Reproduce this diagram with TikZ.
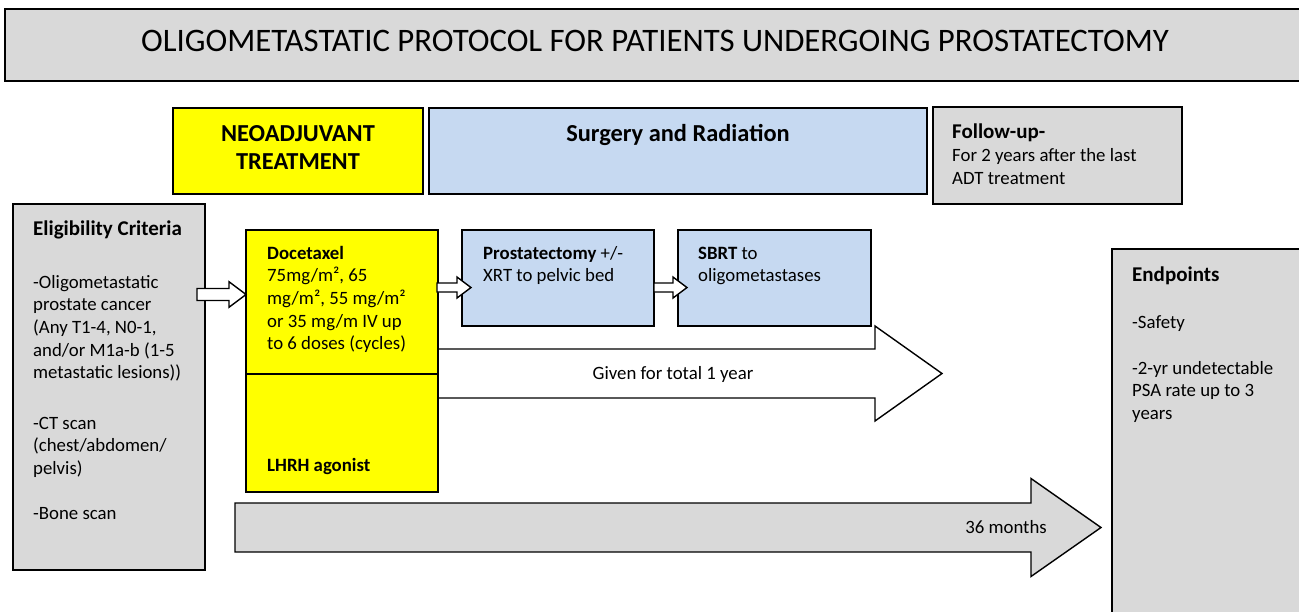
\documentclass[tikz,border=0pt]{standalone}
\usepackage{fontspec}
\setmainfont{Carlito}
\usetikzlibrary{calc}
\definecolor{boxgray}{HTML}{D9D9D9}
\definecolor{boxyellow}{HTML}{FFFF00}
\definecolor{boxblue}{HTML}{C6D9F1}
\newcommand{\bodyfont}{\fontsize{18.8}{22.7}\selectfont}
\newcommand{\subheadfont}{\fontsize{21}{25}\selectfont\bfseries}
\newcommand{\headfont}{\fontsize{24.4}{28}\selectfont\bfseries}
\newcommand{\titlefont}{\fontsize{32.8}{38}\selectfont}
% block arrow: start coord, tip coord, head length, shaft half height, head half height, style
\newcommand{\blockarr}[6]{%
  \draw[#6] let \p1=(#1), \p2=(#2) in
    (\x1,\y1-#4) -- (\x2-#3,\y1-#4) -- (\x2-#3,\y1-#5) -- (\x2,\y1)
    -- (\x2-#3,\y1+#5) -- (\x2-#3,\y1+#4) -- (\x1,\y1+#4) -- cycle;}
\begin{document}
\begin{tikzpicture}[x=1pt,y=-1pt,
  boxbase/.style={draw=black, line width=1.8pt, inner sep=0pt, outer sep=0pt, anchor=north west},
  txt/.style={anchor=north west, inner sep=0pt, align=left, font=\bodyfont},
  subhead/.style={anchor=north west, inner sep=0pt, align=left, font=\subheadfont},
  lbl/.style={anchor=base, inner sep=0pt, font=\bodyfont},
  blockarrow/.style={draw=black, line width=1.4pt, line join=miter},
]
\useasboundingbox (0,0) rectangle (1299,611);

% title
\node[boxbase, fill=boxgray, minimum width=1310pt, minimum height=72pt] (titlebox) at (5,9) {};
\node[font=\titlefont, inner sep=0pt] (titletext) at (655,41) {OLIGOMETASTATIC PROTOCOL FOR PATIENTS UNDERGOING PROSTATECTOMY};

% header row
\node[boxbase, fill=boxyellow, minimum width=250pt, minimum height=86pt] (neo) at (173,108) {};
\node[anchor=north, inner sep=0pt, align=center, font=\headfont] (neotext) at (298,122) {\strut NEOADJUVANT\\TREATMENT};
\node[boxbase, fill=boxblue, minimum width=498pt, minimum height=86pt] (surg) at (429,108) {};
\node[anchor=north, inner sep=0pt, align=center, font=\headfont] (surgtext) at (678,122) {\strut Surgery and Radiation};
\node[boxbase, fill=boxgray, minimum width=249pt, minimum height=97pt] (follow) at (933,107) {};
\node[subhead] (followhead) at (952,121) {\strut Follow-up-};
\node[txt] (followtext) at (952,145) {\strut For 2 years after the last\\[0.8pt]ADT treatment};

% big arrows
\coordinate (gs) at (438,373.5);
\coordinate (gt) at (942,373.5);
\blockarr{gs}{gt}{67}{24.5}{47.5}{blockarrow, fill=white}
\node[lbl] (gtext) at (673,379) {Given for total 1 year};

\coordinate (ms) at (235,527.5);
\coordinate (mt) at (1101,527.5);
\blockarr{ms}{mt}{70}{24.5}{49}{blockarrow, fill=boxgray}
\node[lbl] (mtext) at (1006,533) {36 months};

% eligibility
\node[boxbase, fill=boxgray, minimum width=192pt, minimum height=366pt] (elig) at (13,204) {};
\node[subhead] (eligh) at (33,218) {\strut Eligibility Criteria};
\node[txt] (elig1) at (33,272) {\strut -Oligometastatic\\prostate cancer\\(Any T1-4, N0-1,\\and/or M1a-b (1-5\\metastatic lesions))};
\node[txt] (elig2) at (33,413) {\strut -CT scan\\(chest/abdomen/\\pelvis)};
\node[txt] (elig3) at (33,503) {\strut -Bone scan};

% docetaxel / LHRH
\node[boxbase, fill=boxyellow, minimum width=192pt, minimum height=144pt] (doce) at (246,230) {};
\node[boxbase, fill=boxyellow, minimum width=192pt, minimum height=118pt] (lhrh) at (246,374) {};
\node[txt] (docetext) at (267,243) {\strut\textbf{Docetaxel}\\75mg/m², 65\\mg/m², 55 mg/m²\\or 35 mg/m IV up\\to 6 doses (cycles)};
\node[txt] (lhrhtext) at (267,455) {\strut\textbf{LHRH agonist}};

% surgery boxes
\node[boxbase, fill=boxblue, minimum width=192pt, minimum height=96pt] (prost) at (462,230) {};
\node[txt] (prosttext) at (483,243) {\strut\textbf{Prostatectomy} +/-\\XRT to pelvic bed};
\node[boxbase, fill=boxblue, minimum width=193pt, minimum height=96pt] (sbrt) at (678,230) {};
\node[txt] (sbrttext) at (698,243) {\strut\textbf{SBRT} to\\oligometastases};

% endpoints
\node[boxbase, fill=boxgray, minimum width=203pt, minimum height=376pt] (endp) at (1112,249) {};
\node[subhead] (endph) at (1132,264) {\strut Endpoints};
\node[txt] (endp1) at (1132,312) {\strut -Safety};
\node[txt] (endp2) at (1132,358) {\strut -2-yr undetectable\\PSA rate up to 3\\years};

% small arrows
\coordinate (a1s) at (197,294.5);
\coordinate (a1t) at (246,294.5);
\blockarr{a1s}{a1t}{17}{6}{12.8}{blockarrow, fill=white}
\coordinate (a2s) at (437,287.5);
\coordinate (a2t) at (471,287.5);
\blockarr{a2s}{a2t}{14}{4.5}{10.5}{blockarrow, fill=white}
\coordinate (a3s) at (654,287.5);
\coordinate (a3t) at (687,287.5);
\blockarr{a3s}{a3t}{14}{4.5}{10.5}{blockarrow, fill=white}
\end{tikzpicture}
\end{document}
